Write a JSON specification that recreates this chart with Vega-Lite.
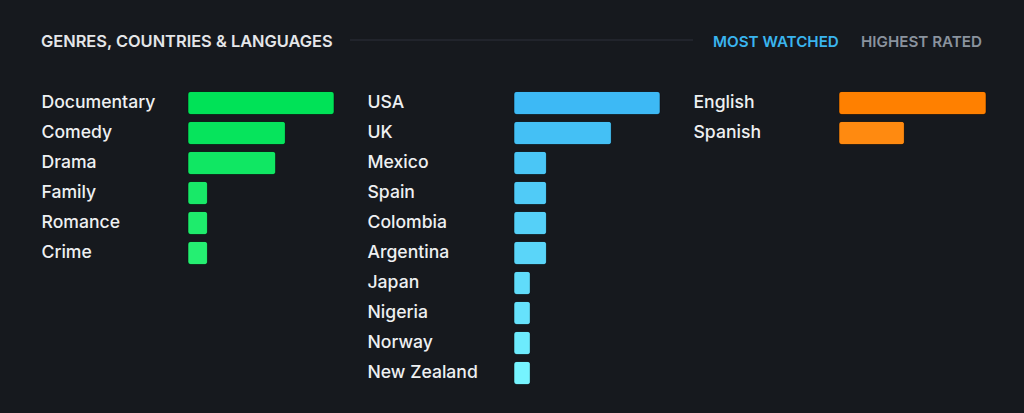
{
  "$schema": "https://vega.github.io/schema/vega-lite/v6.json",
  "background": "#16191e",
  "padding": {"left": 41, "top": 30, "right": 38, "bottom": 26},
  "config": {
    "view": {"stroke": null},
    "font": "Inter",
    "axis": {"domain": false, "grid": false, "ticks": false, "tickSize": 0, "title": null}
  },
  "spacing": 37,
  "vconcat": [
    {
      "width": 798,
      "height": 20,
      "layer": [
        {
          "data": {"values": [{"label": "GENRES, COUNTRIES & LANGUAGES"}]},
          "mark": {"type": "text", "align": "left", "baseline": "alphabetic", "x": -147, "y": 17, "fontSize": 16.4, "fontWeight": 600, "color": "#e4e6e9"},
          "encoding": {"text": {"field": "label"}}
        },
        {
          "data": {"values": [{"label": "divider"}]},
          "mark": {"type": "rule", "color": "#2c313a", "strokeWidth": 1},
          "encoding": {"x": {"value": 162}, "x2": {"value": 505}, "y": {"value": 10}}
        },
        {
          "data": {"values": [{"label": "MOST WATCHED", "active": true}, {"label": "HIGHEST RATED", "active": false}]},
          "mark": {"type": "text", "align": "left", "baseline": "alphabetic", "y": 17, "fontSize": 15.2, "fontWeight": 600},
          "encoding": {
            "text": {"field": "label"},
            "x": {"field": "label", "type": "nominal", "scale": {"type": "point", "padding": 0, "domain": ["MOST WATCHED", "HIGHEST RATED"], "range": [525, 673]}, "axis": null},
            "color": {"field": "active", "type": "nominal", "scale": {"domain": [true, false], "range": ["#3ab5ef", "#8a939e"]}, "legend": null}
          }
        }
      ]
    },
    {
      "spacing": 32,
      "resolve": {"scale": {"color": "independent", "x": "independent", "y": "independent"}},
      "hconcat": [
        {
          "data": {"values": [
            {"name": "Documentary", "count": 15},
            {"name": "Comedy", "count": 10},
            {"name": "Drama", "count": 9},
            {"name": "Family", "count": 2},
            {"name": "Romance", "count": 2},
            {"name": "Crime", "count": 2}
          ]},
          "width": 146,
          "height": {"step": 30},
          "mark": {"type": "bar", "cornerRadius": 3, "stroke": "#000000", "strokeOpacity": 0.25, "strokeWidth": 1},
          "encoding": {
            "y": {"field": "name", "type": "nominal", "sort": null, "scale": {"paddingInner": 0.233, "paddingOuter": 0.1167},
                  "axis": {"labelAlign": "left", "labelPadding": 147, "minExtent": 147, "maxExtent": 147, "labelFontSize": 17.6, "labelFontWeight": 500, "labelColor": "#eef0f2", "labelFont": "Inter"}},
            "x": {"field": "count", "type": "quantitative", "scale": {"domain": [0, 15], "nice": false}, "axis": null},
            "color": {"field": "name", "type": "nominal", "legend": null,
                      "scale": {"domain": ["Documentary", "Comedy", "Drama", "Family", "Romance", "Crime"],
                                "range": ["#00e257", "#06e45c", "#10e763", "#18e968", "#1eec6c", "#25ef72"]}}
          }
        },
        {
          "data": {"values": [
            {"name": "USA", "count": 9},
            {"name": "UK", "count": 6},
            {"name": "Mexico", "count": 2},
            {"name": "Spain", "count": 2},
            {"name": "Colombia", "count": 2},
            {"name": "Argentina", "count": 2},
            {"name": "Japan", "count": 1},
            {"name": "Nigeria", "count": 1},
            {"name": "Norway", "count": 1},
            {"name": "New Zealand", "count": 1}
          ]},
          "width": 146,
          "height": {"step": 30},
          "mark": {"type": "bar", "cornerRadius": 3, "stroke": "#000000", "strokeOpacity": 0.25, "strokeWidth": 1},
          "encoding": {
            "y": {"field": "name", "type": "nominal", "sort": null, "scale": {"paddingInner": 0.233, "paddingOuter": 0.1167},
                  "axis": {"labelAlign": "left", "labelPadding": 147, "minExtent": 147, "maxExtent": 147, "labelFontSize": 17.6, "labelFontWeight": 500, "labelColor": "#eef0f2", "labelFont": "Inter"}},
            "x": {"field": "count", "type": "quantitative", "scale": {"domain": [0, 9], "nice": false}, "axis": null},
            "color": {"field": "name", "type": "nominal", "legend": null,
                      "scale": {"domain": ["USA", "UK", "Mexico", "Spain", "Colombia", "Argentina", "Japan", "Nigeria", "Norway", "New Zealand"],
                                "range": ["#3db9f5", "#44c0f5", "#4ac6f6", "#50cbf7", "#55d0f8", "#5ad5f9", "#60dcfa", "#66e2fc", "#6debfd", "#76f4ff"]}}
          }
        },
        {
          "data": {"values": [
            {"name": "English", "count": 9},
            {"name": "Spanish", "count": 4}
          ]},
          "width": 147,
          "height": {"step": 30},
          "mark": {"type": "bar", "cornerRadius": 3, "stroke": "#000000", "strokeOpacity": 0.25, "strokeWidth": 1},
          "encoding": {
            "y": {"field": "name", "type": "nominal", "sort": null, "scale": {"paddingInner": 0.233, "paddingOuter": 0.1167},
                  "axis": {"labelAlign": "left", "labelPadding": 146, "minExtent": 146, "maxExtent": 146, "labelFontSize": 17.6, "labelFontWeight": 500, "labelColor": "#eef0f2", "labelFont": "Inter"}},
            "x": {"field": "count", "type": "quantitative", "scale": {"domain": [0, 9], "nice": false}, "axis": null},
            "color": {"field": "name", "type": "nominal", "legend": null,
                      "scale": {"domain": ["English", "Spanish"], "range": ["#ff8000", "#ff8a10"]}}
          }
        }
      ]
    }
  ]
}
